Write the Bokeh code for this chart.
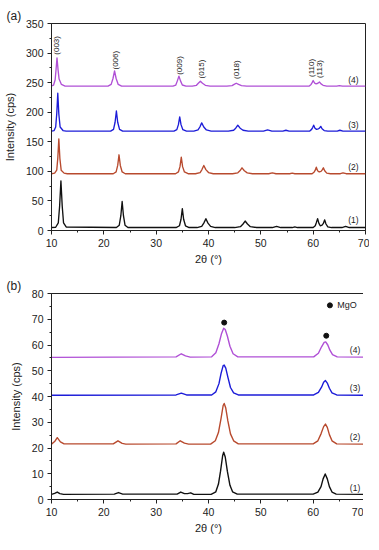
from bokeh.plotting import figure
from bokeh.layouts import column
from bokeh.models import Range1d, SingleIntervalTicker
from bokeh.core.properties import value
from bokeh.embed import file_html
from bokeh.resources import INLINE
import math

FONT = "Liberation Sans"

# ---------------- Panel (a) data: 2theta (deg) vs intensity (cps) ----------------
a1_x = [10, 10.8, 11.3, 11.55, 11.8, 12.05, 12.3, 12.8,
        22.4, 22.95, 23.25, 23.5, 23.75, 24.05, 24.6,
        33.8, 34.45, 34.75, 35.0, 35.25, 35.6, 36.3,
        37.8, 38.7, 39.1, 39.5, 39.9, 40.4, 41.3,
        45.0, 46.1, 46.6, 47.0, 47.45, 48.0, 49.2,
        52.2, 53.0, 53.8, 56.0, 56.5, 57.0,
        60.0, 60.4, 60.6, 60.85, 61.1, 61.35, 61.7, 61.95, 62.2, 62.45, 62.8, 63.5,
        65.5, 66.2, 66.9, 70]
a1_y = [5, 5.5, 13, 41, 84, 41, 13, 6,
        5, 9, 25, 49, 25, 9, 5,
        5, 8, 19, 37, 19, 8, 5,
        5, 7, 12.5, 20, 12.5, 7, 5,
        5, 6.5, 11, 16, 11, 6.5, 5,
        5, 7, 5, 5, 6, 5,
        5, 8, 13, 20, 12, 8, 9, 12, 18, 11, 6, 5,
        5, 7, 5, 5]

a2_x = [10, 10.6, 11.0, 11.2, 11.4, 11.6, 11.85, 12.4, 13,
        21.8, 22.35, 22.65, 22.9, 23.15, 23.5, 24.1,
        33.7, 34.25, 34.55, 34.8, 35.05, 35.4, 36.1,
        37.5, 38.4, 38.75, 39.1, 39.5, 40.0, 40.9,
        44.6, 45.6, 46.0, 46.4, 46.85, 47.4, 48.4,
        51.5, 52.2, 52.9, 55.5, 56.0, 56.5,
        59.8, 60.2, 60.4, 60.6, 60.85, 61.15, 61.5, 61.7, 61.95, 62.2, 62.6, 63.3,
        65.2, 65.7, 66.3, 70]
a2_y = [96, 97, 102, 122, 155, 122, 102, 97, 96,
        96, 99, 110, 128, 110, 99, 96,
        96, 99, 108, 124, 108, 99, 96,
        96, 98, 103, 110, 103, 98, 96,
        96, 97.5, 101, 106, 101, 97.5, 96,
        96, 97.5, 96, 96, 97, 96,
        96, 99, 102, 107, 101, 99, 100, 102, 106, 101, 97, 96,
        96, 97.5, 96, 96]

a3_x = [10, 10.5, 10.8, 11.0, 11.2, 11.4, 11.65, 12.2, 12.8,
        21.3, 21.85, 22.15, 22.4, 22.65, 23.0, 23.6,
        33.4, 33.95, 34.25, 34.5, 34.75, 35.1, 35.8,
        37.2, 38.0, 38.35, 38.7, 39.1, 39.6, 40.5,
        43.8, 44.8, 45.2, 45.6, 46.05, 46.6, 47.6,
        50.5, 51.3, 52.1, 54.2, 54.8, 55.4,
        59.3, 59.7, 59.9, 60.1, 60.35, 60.65, 61.0, 61.2, 61.45, 61.7, 62.1, 62.8,
        64.6, 65.1, 65.7, 70]
a3_y = [168, 169, 175, 197, 232, 197, 175, 169, 168,
        168, 171, 183, 202, 183, 171, 168,
        168, 170.5, 179, 192, 179, 170.5, 168,
        168, 170, 175, 182, 175, 170, 168,
        168, 169.5, 173, 178, 173, 169.5, 168,
        168, 170, 168, 168, 169.5, 168,
        168, 171, 174, 178, 173, 171, 172, 173, 176, 172, 169, 168,
        168, 169.5, 168, 168]

a4_x = [10, 10.4, 10.7, 10.85, 11.05, 11.25, 11.45, 11.9, 12.6,
        20.8, 21.4, 21.75, 22.05, 22.35, 22.75, 23.4,
        33.2, 33.75, 34.05, 34.35, 34.65, 35.0, 35.7,
        36.9, 37.7, 38.05, 38.45, 38.85, 39.4, 40.3,
        43.5, 44.5, 44.9, 45.3, 45.75, 46.3, 47.3,
        59.2, 59.6, 59.8, 60.0, 60.3, 60.55, 60.9, 61.2, 61.5, 61.9, 62.6,
        64.5, 65.0, 65.6, 70]
a4_y = [244.5, 246, 255, 270, 292, 272, 256, 247, 244,
        244, 247, 257, 270, 257, 247, 244,
        244, 246, 253, 261, 253, 246, 244,
        244, 245.5, 249, 252.5, 249, 245.5, 244,
        244, 245, 247, 249, 247, 245, 244,
        244, 247, 250, 253.5, 249, 248, 249, 251, 248, 245.5, 244,
        244, 245, 244, 244]

hkl_labels = ["(003)", "(006)", "(009)", "(015)", "(018)", "(110)", "(113)"]
hkl_x = [11.0, 22.3, 34.4, 38.7, 45.4, 59.6, 61.2]
hkl_y = [313, 288, 279, 273, 272, 275, 273]

# ---------------- Panel (b) data ----------------
b1_x = [10, 10.6, 11.1, 11.6, 12.3, 22.0, 22.8, 23.6, 34.0, 34.7, 35.4, 36.0, 36.6, 37.2,
        40.5, 41.4, 41.9, 42.3, 42.7, 42.9, 43.2, 43.6, 44.1, 44.6, 45.5,
        60.0, 60.9, 61.5, 61.9, 62.3, 62.7, 63.1, 63.6, 64.4, 70]
b1_y = [2.0, 2.4, 2.9, 2.3, 2.0, 2.1, 2.7, 2.1, 2.1, 2.9, 2.3, 2.3, 2.6, 2.0,
        2.0, 3.0, 6.0, 11.0, 17.0, 18.4, 16.5, 11.0, 5.5, 3.0, 2.1,
        2.1, 2.9, 5.0, 8.0, 9.9, 8.0, 5.0, 2.9, 2.1, 2.0]

b2_x = [10, 10.6, 11.1, 11.7, 12.4, 21.8, 22.7, 23.5, 24.2, 33.8, 34.6, 35.4, 36.2,
        40.4, 41.3, 41.9, 42.4, 42.8, 43.0, 43.3, 43.7, 44.2, 44.8, 45.7,
        60.0, 60.9, 61.5, 62.0, 62.35, 62.7, 63.1, 63.6, 64.5, 70]
b2_y = [21.5, 22.5, 24.0, 22.4, 21.6, 21.6, 22.8, 21.8, 21.5, 21.6, 22.8, 21.9, 21.5,
        21.5, 22.8, 26.0, 31.5, 36.5, 37.3, 35.5, 30.5, 25.5, 22.8, 21.6,
        21.6, 22.8, 25.5, 28.3, 29.3, 28.0, 25.2, 22.8, 21.6, 21.5]

b3_x = [10, 33.8, 34.8, 35.8, 40.6, 41.4, 42.0, 42.4, 42.8, 43.0, 43.3, 43.7, 44.2, 44.8, 45.7,
        60.1, 61.0, 61.6, 62.0, 62.35, 62.7, 63.1, 63.6, 64.5, 70]
b3_y = [40.5, 40.6, 41.3, 40.6, 40.6, 41.8, 45.0, 49.0, 52.0, 52.2, 51.0, 47.5, 43.5, 41.4, 40.6,
        40.6, 41.6, 43.6, 45.5, 46.2, 45.2, 43.2, 41.4, 40.6, 40.5]

b4_x = [10, 33.8, 34.8, 35.6, 36.5, 40.6, 41.4, 42.0, 42.5, 42.9, 43.2, 43.6, 44.1, 44.7, 45.6,
        60.1, 61.0, 61.6, 62.1, 62.4, 62.8, 63.2, 63.7, 64.6, 70]
b4_y = [55.2, 55.4, 56.6, 55.8, 55.3, 55.4, 57.0, 60.5, 64.5, 66.5, 66.0, 63.5, 59.5, 56.6, 55.4,
        55.4, 56.8, 59.3, 61.0, 61.2, 60.0, 58.0, 56.3, 55.4, 55.3]

mgo_x = [43.0, 62.5]
mgo_y = [68.7, 63.6]

series_labels = ["(1)", "(2)", "(3)", "(4)"]
a_label_y = [17, 107, 178, 254.5]
b_label_y = [4.5, 24.2, 43.2, 58.0]

COLORS = ["#111111", "#b84a2e", "#1c1cd8", "#b050d6"]


def style(p, ymax, yint):
    p.x_range = Range1d(10, 70)
    p.y_range = Range1d(0, ymax)
    p.xgrid.visible = False
    p.ygrid.visible = False
    p.outline_line_color = "#222222"
    p.outline_line_width = 1
    p.xaxis.ticker = SingleIntervalTicker(interval=10, num_minor_ticks=2)
    p.yaxis.ticker = SingleIntervalTicker(interval=yint, num_minor_ticks=2)
    for ax in (p.xaxis[0], p.yaxis[0]):
        ax.axis_line_color = "#222222"
        ax.major_tick_line_color = "#222222"
        ax.minor_tick_line_color = "#222222"
        ax.major_tick_out = 4
        ax.major_tick_in = 0
        ax.minor_tick_out = 2
        ax.minor_tick_in = 0
        ax.major_label_text_font = FONT
        ax.major_label_text_font_size = "10.5px"
        ax.major_label_text_color = "#222222"
        ax.major_label_standoff = 4
        ax.axis_label_text_font = FONT
        ax.axis_label_text_font_size = "11px"
        ax.axis_label_text_font_style = "normal"
        ax.axis_label_text_color = "#222222"
    p.xaxis.axis_label = "2θ (°)"
    p.yaxis.axis_label = "Intensity (cps)"
    p.xaxis.axis_label_standoff = 3
    p.yaxis.axis_label_standoff = 7
    p.title.text_font = FONT
    p.title.text_font_size = "12px"
    p.title.text_font_style = "normal"
    p.title.text_color = "#222222"
    p.title.align = "left"
    p.title.offset = -45
    p.title.standoff = 2


pa = figure(frame_width=314, frame_height=207, min_border_left=45, min_border_right=4,
            min_border_top=23, min_border_bottom=38, output_backend="svg",
            toolbar_location=None, title="(a)")
style(pa, 350, 50)
for xs, ys, c in zip([a1_x, a2_x, a3_x, a4_x], [a1_y, a2_y, a3_y, a4_y], COLORS):
    pa.line(xs, ys, line_color=c, line_width=1.35, line_join="round")
pa.text(x=hkl_x, y=hkl_y, text=hkl_labels, angle=math.pi / 2,
        text_align="center", text_baseline="middle",
        text_font=value(FONT), text_font_size="8px", text_color="#222222")
pa.text(x=[67.7] * 4, y=a_label_y, text=series_labels, text_align="center",
        text_baseline="middle", text_font=value(FONT), text_font_size="8.5px",
        text_color="#222222")

pb = figure(frame_width=314, frame_height=206, min_border_left=45, min_border_right=4,
            min_border_top=25, min_border_bottom=33, output_backend="svg",
            toolbar_location=None, title="(b)")
style(pb, 80, 10)
for xs, ys, c in zip([b1_x, b2_x, b3_x, b4_x], [b1_y, b2_y, b3_y, b4_y], COLORS):
    pb.line(xs, ys, line_color=c, line_width=1.4, line_join="round")
pb.scatter(mgo_x, mgo_y, size=5, color="#111111")
pb.scatter([63.2], [75.4], size=5, color="#111111")
pb.text(x=[64.6], y=[75.4], text=["MgO"], text_align="left", text_baseline="middle",
        text_font=value(FONT), text_font_size="9px", text_color="#222222")
pb.text(x=[68.0] * 4, y=b_label_y, text=series_labels, text_align="center",
        text_baseline="middle", text_font=value(FONT), text_font_size="8.5px",
        text_color="#222222")

layout = column(pa, pb, spacing=0)
open("out.html", "w").write(file_html(layout, INLINE))
